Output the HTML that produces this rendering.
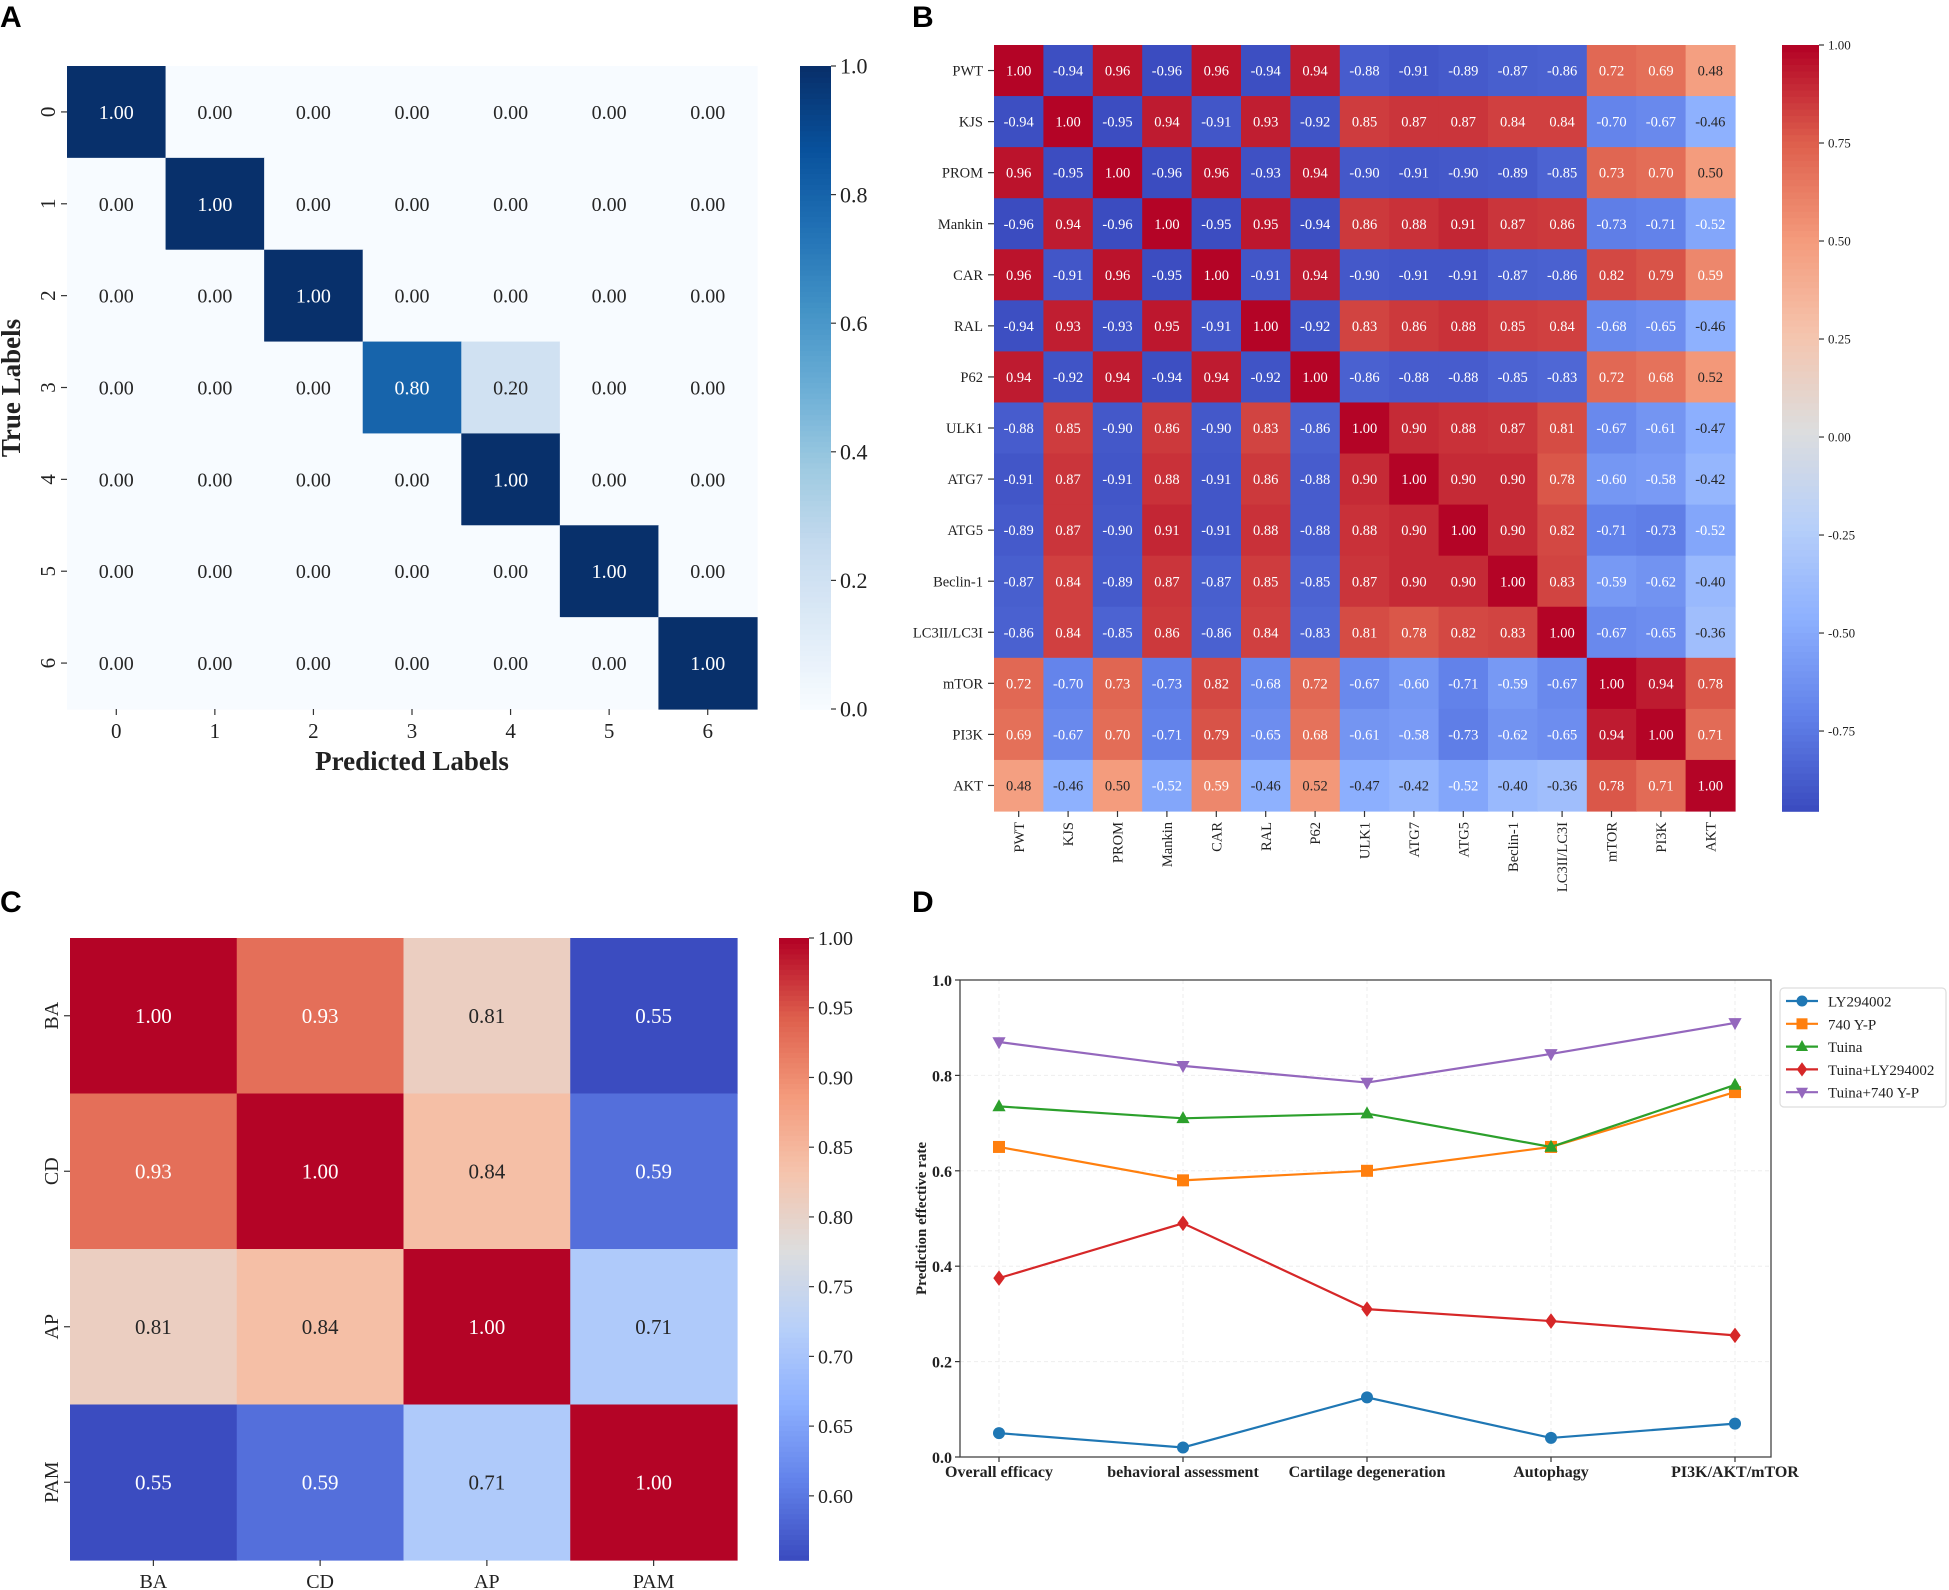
<!DOCTYPE html>
<html><head><meta charset="utf-8">
<style>
html,body{margin:0;padding:0;background:#fff;}
svg{display:block;}
text{font-family:"Liberation Serif",serif;}
.pl{font-family:"Liberation Sans",sans-serif;font-weight:bold;font-size:30px;}
</style></head>
<body>
<svg id="fig" width="1949" height="1590" viewBox="0 0 1949 1590" xmlns="http://www.w3.org/2000/svg">
<rect width="1949" height="1590" fill="#fff"/>
<text class="pl" x="0" y="27">A</text>
<text class="pl" x="912" y="27">B</text>
<text class="pl" x="0" y="912">C</text>
<text class="pl" x="912" y="912">D</text>
<g id="pa"></g>
<g id="pb"></g>
<g id="pc"></g>
<g id="pd"></g>
</svg>
<script>
// ---------- Panel A data ----------
const aLabels = ["0","1","2","3","4","5","6"];
const aMatrix = [
 [1,0,0,0,0,0,0],
 [0,1,0,0,0,0,0],
 [0,0,1,0,0,0,0],
 [0,0,0,0.8,0.2,0,0],
 [0,0,0,0,1,0,0],
 [0,0,0,0,0,1,0],
 [0,0,0,0,0,0,1]];
const aCbTicks = [0,0.2,0.4,0.6,0.8,1.0];
// ---------- Panel B data ----------
const bLabels = ["PWT","KJS","PROM","Mankin","CAR","RAL","P62","ULK1","ATG7","ATG5","Beclin-1","LC3II/LC3I","mTOR","PI3K","AKT"];
const bMatrix = [
 [1.00,-0.94,0.96,-0.96,0.96,-0.94,0.94,-0.88,-0.91,-0.89,-0.87,-0.86,0.72,0.69,0.48],
 [-0.94,1.00,-0.95,0.94,-0.91,0.93,-0.92,0.85,0.87,0.87,0.84,0.84,-0.70,-0.67,-0.46],
 [0.96,-0.95,1.00,-0.96,0.96,-0.93,0.94,-0.90,-0.91,-0.90,-0.89,-0.85,0.73,0.70,0.50],
 [-0.96,0.94,-0.96,1.00,-0.95,0.95,-0.94,0.86,0.88,0.91,0.87,0.86,-0.73,-0.71,-0.52],
 [0.96,-0.91,0.96,-0.95,1.00,-0.91,0.94,-0.90,-0.91,-0.91,-0.87,-0.86,0.82,0.79,0.59],
 [-0.94,0.93,-0.93,0.95,-0.91,1.00,-0.92,0.83,0.86,0.88,0.85,0.84,-0.68,-0.65,-0.46],
 [0.94,-0.92,0.94,-0.94,0.94,-0.92,1.00,-0.86,-0.88,-0.88,-0.85,-0.83,0.72,0.68,0.52],
 [-0.88,0.85,-0.90,0.86,-0.90,0.83,-0.86,1.00,0.90,0.88,0.87,0.81,-0.67,-0.61,-0.47],
 [-0.91,0.87,-0.91,0.88,-0.91,0.86,-0.88,0.90,1.00,0.90,0.90,0.78,-0.60,-0.58,-0.42],
 [-0.89,0.87,-0.90,0.91,-0.91,0.88,-0.88,0.88,0.90,1.00,0.90,0.82,-0.71,-0.73,-0.52],
 [-0.87,0.84,-0.89,0.87,-0.87,0.85,-0.85,0.87,0.90,0.90,1.00,0.83,-0.59,-0.62,-0.40],
 [-0.86,0.84,-0.85,0.86,-0.86,0.84,-0.83,0.81,0.78,0.82,0.83,1.00,-0.67,-0.65,-0.36],
 [0.72,-0.70,0.73,-0.73,0.82,-0.68,0.72,-0.67,-0.60,-0.71,-0.59,-0.67,1.00,0.94,0.78],
 [0.69,-0.67,0.70,-0.71,0.79,-0.65,0.68,-0.61,-0.58,-0.73,-0.62,-0.65,0.94,1.00,0.71],
 [0.48,-0.46,0.50,-0.52,0.59,-0.46,0.52,-0.47,-0.42,-0.52,-0.40,-0.36,0.78,0.71,1.00]];
const bCbTicks = [1.00,0.75,0.50,0.25,0.00,-0.25,-0.50,-0.75];
// ---------- Panel C data ----------
const cLabels = ["BA","CD","AP","PAM"];
const cMatrix = [
 [1.00,0.93,0.81,0.55],
 [0.93,1.00,0.84,0.59],
 [0.81,0.84,1.00,0.71],
 [0.55,0.59,0.71,1.00]];
const cCbTicks = [1.00,0.95,0.90,0.85,0.80,0.75,0.70,0.65,0.60];
// ---------- Panel D data ----------
const dCategories = ["Overall efficacy","behavioral assessment","Cartilage degeneration","Autophagy","PI3K/AKT/mTOR"];
const dSeriesNames = ["LY294002","740 Y-P","Tuina","Tuina+LY294002","Tuina+740 Y-P"];
const dLY = [0.05,0.02,0.125,0.04,0.07];
const d740 = [0.65,0.58,0.60,0.65,0.765];
const dTuina = [0.735,0.71,0.72,0.65,0.78];
const dTuinaLY = [0.375,0.49,0.31,0.285,0.255];
const dTuina740 = [0.87,0.82,0.785,0.845,0.91];
const dYTicks = [0.0,0.2,0.4,0.6,0.8,1.0];

const NS="http://www.w3.org/2000/svg";
function mk(parent,tag,attrs,txt){const e=document.createElementNS(NS,tag);for(const k in attrs)e.setAttribute(k,attrs[k]);if(txt!==undefined)e.textContent=txt;parent.appendChild(e);return e;}
function interp(stops,t){t=Math.max(0,Math.min(1,t));const n=stops.length-1;const p=t*n;const i=Math.min(n-1,Math.floor(p));const f=p-i;const a=stops[i],b=stops[i+1];return [0,1,2].map(k=>Math.round(a[k]+(b[k]-a[k])*f));}
const BLUES=[[247,251,255],[222,235,247],[198,219,239],[158,202,225],[107,174,214],[66,146,198],[33,113,181],[8,81,156],[8,48,107]];
const COOL=[[59,76,192],[98,130,234],[141,176,254],[184,208,249],[221,221,221],[245,196,173],[244,154,123],[222,96,77],[180,4,38]];
function rgb(c){return `rgb(${c[0]},${c[1]},${c[2]})`;}
function lum(c){const l=c.map(v=>{v/=255;return v<=0.03928?v/12.92:Math.pow((v+0.055)/1.055,2.4);});return 0.2126*l[0]+0.7152*l[1]+0.0722*l[2];}

function heatmap(g,cfg){
  const {labels,matrix,x0,y0,x1,y1,vmin,vmax,cmap,fs,tfs,cb,cbTicks,cbFmt,cbFs,rowRot,colRot,name}=cfg;
  const n=labels.length, cw=(x1-x0)/n, ch=(y1-y0)/n;
  const sx=i=>x0+i*cw, sy=j=>y0+j*ch;
  const norm=v=>(v-vmin)/(vmax-vmin);
  matrix.forEach((row,r)=>row.forEach((v,c)=>{
    const col=interp(cmap,norm(v));
    const rc=mk(g,'rect',{x:sx(c),y:sy(r),width:cw+0.6,height:ch+0.6,fill:rgb(col)});
    
    
    const t=mk(g,'text',{x:sx(c)+cw/2,y:sy(r)+ch/2+fs*0.35,'text-anchor':'middle','font-size':fs,fill:lum(col)>0.408?'#262626':'#fff'},v.toFixed(2));
    
    
  }));
  labels.forEach((l,i)=>{
    const yc=sy(i)+ch/2, xc=sx(i)+cw/2;
    mk(g,'line',{x1:x0-6,x2:x0,y1:yc,y2:yc,stroke:'#333','stroke-width':1.2});
    let t;
    if(rowRot){t=mk(g,'text',{x:0,y:0,transform:`translate(${x0-12},${yc}) rotate(-90)`,'text-anchor':'middle','font-size':tfs,fill:'#222'},l);}
    else{t=mk(g,'text',{x:x0-11,y:yc+tfs*0.35,'text-anchor':'end','font-size':tfs,fill:'#222'},l);}
    
    
    mk(g,'line',{x1:xc,x2:xc,y1:y1,y2:y1+6,stroke:'#333','stroke-width':1.2});
    let u;
    if(colRot){u=mk(g,'text',{x:0,y:0,transform:`translate(${xc+tfs*0.35},${y1+11}) rotate(-90)`,'text-anchor':'end','font-size':tfs,fill:'#222'},l);}
    else{u=mk(g,'text',{x:xc,y:y1+12+tfs*0.8,'text-anchor':'middle','font-size':tfs,fill:'#222'},l);}
    
    
  });
  const cby=v=>cb.y1-(v-vmin)/(vmax-vmin)*(cb.y1-cb.y0);
  const steps=120;
  for(let k=0;k<steps;k++){
    const v0=vmin+(vmax-vmin)*k/steps;
    mk(g,'rect',{x:cb.x0,y:cby(v0+(vmax-vmin)/steps),width:cb.x1-cb.x0,height:(cb.y1-cb.y0)/steps+0.8,fill:rgb(interp(cmap,k/(steps-1)))});
  }
  const cbr=mk(g,'rect',{x:cb.x0,y:cb.y0,width:cb.x1-cb.x0,height:cb.y1-cb.y0,fill:'none'});
  
  
  cbTicks.forEach(v=>{
    const y=cby(v);
    mk(g,'line',{x1:cb.x1,x2:cb.x1+5,y1:y,y2:y,stroke:'#333','stroke-width':1.2});
    const t=mk(g,'text',{x:cb.x1+9,y:y+cbFs*0.35,'font-size':cbFs,fill:'#222'},v.toFixed(cbFmt));
    
    
  });
}

const pa=document.getElementById('pa');
heatmap(pa,{labels:aLabels,matrix:aMatrix,x0:67,y0:66,x1:757,y1:709,vmin:0,vmax:1,cmap:BLUES,fs:20,tfs:21,
  cb:{x0:800,x1:831,y0:66,y1:709},cbTicks:aCbTicks,cbFmt:1,cbFs:22,rowRot:true,colRot:false,name:'confusion'});
let t=mk(pa,'text',{x:412,y:770,'text-anchor':'middle','font-size':27,'font-weight':'bold',fill:'#222'},'Predicted Labels');

t=mk(pa,'text',{x:0,y:0,transform:'translate(20,388) rotate(-90)','text-anchor':'middle','font-size':27,'font-weight':'bold',fill:'#222'},'True Labels');


const pb=document.getElementById('pb');
heatmap(pb,{labels:bLabels,matrix:bMatrix,x0:994,y0:45,x1:1735,y1:811,vmin:-0.954,vmax:1,cmap:COOL,fs:14.5,tfs:14.5,
  cb:{x0:1782,x1:1819,y0:45,y1:811},cbTicks:bCbTicks,cbFmt:2,cbFs:13,rowRot:false,colRot:true,name:'correlation'});

const pc=document.getElementById('pc');
heatmap(pc,{labels:cLabels,matrix:cMatrix,x0:70,y0:938,x1:737,y1:1560,vmin:0.554,vmax:1,cmap:COOL,fs:21,tfs:20,
  cb:{x0:779,x1:809,y0:938,y1:1560},cbTicks:cCbTicks,cbFmt:2,cbFs:20,rowRot:true,colRot:false,name:'pairwise'});

const pd=document.getElementById('pd');
const DX0=960,DX1=1771,DY0=980,DY1=1457;
const dx=i=>999+i*(1735-999)/(dCategories.length-1);
const dy=v=>DY1-v*(DY1-DY0);
dYTicks.forEach(v=>{
  mk(pd,'line',{x1:DX0,x2:DX1,y1:dy(v),y2:dy(v),stroke:'#eee','stroke-width':1,'stroke-dasharray':'4,3'});
  mk(pd,'line',{x1:DX0-5,x2:DX0,y1:dy(v),y2:dy(v),stroke:'#333','stroke-width':1.2});
  const t=mk(pd,'text',{x:DX0-8,y:dy(v)+6,'text-anchor':'end','font-size':16,'font-weight':'bold',fill:'#222'},v.toFixed(1));
  
});
dCategories.forEach((c,i)=>{
  mk(pd,'line',{x1:dx(i),x2:dx(i),y1:DY0,y2:DY1,stroke:'#eee','stroke-width':1,'stroke-dasharray':'4,3'});
  mk(pd,'line',{x1:dx(i),x2:dx(i),y1:DY1,y2:DY1+5,stroke:'#333','stroke-width':1.2});
  const t=mk(pd,'text',{x:dx(i),y:DY1+20,'text-anchor':'middle','font-size':16,'font-weight':'bold',fill:'#222'},c);
  
});
const ax=mk(pd,'rect',{x:DX0,y:DY0,width:DX1-DX0,height:DY1-DY0,fill:'none',stroke:'#444','stroke-width':1.3});

t=mk(pd,'text',{x:0,y:0,transform:`translate(926,${(DY0+DY1)/2}) rotate(-90)`,'text-anchor':'middle','font-size':15,'font-weight':'bold',fill:'#222'},'Prediction effective rate');


const dColors=['#1f77b4','#ff7f0e','#2ca02c','#d62728','#9467bd'];
const dMarkers=['o','s','^','D','v'];
const dSeries=[dLY,d740,dTuina,dTuinaLY,dTuina740];
function marker(g,type,x,y,col,r){
  if(type==='o') return mk(g,'circle',{cx:x,cy:y,r:r,fill:col});
  if(type==='s') return mk(g,'rect',{x:x-r,y:y-r,width:2*r,height:2*r,fill:col});
  if(type==='^') return mk(g,'polygon',{points:`${x},${y-r*1.2} ${x-r*1.1},${y+r*0.8} ${x+r*1.1},${y+r*0.8}`,fill:col});
  if(type==='v') return mk(g,'polygon',{points:`${x},${y+r*1.2} ${x-r*1.1},${y-r*0.8} ${x+r*1.1},${y-r*0.8}`,fill:col});
  return mk(g,'polygon',{points:`${x},${y-r*1.3} ${x+r*0.95},${y} ${x},${y+r*1.3} ${x-r*0.95},${y}`,fill:col});
}
dSeries.forEach((s,k)=>{
  const pts=s.map((v,i)=>`${dx(i)},${dy(v)}`).join(' ');
  const pl=mk(pd,'polyline',{points:pts,fill:'none',stroke:dColors[k],'stroke-width':2.2});
  
  
  s.forEach((v,i)=>{
    const m=marker(pd,dMarkers[k],dx(i),dy(v),dColors[k],6);
    
    
  });
});
const lg=mk(pd,'g',{});


mk(lg,'rect',{x:1780,y:988,width:166,height:119,rx:4,fill:'#fff',stroke:'#ddd','stroke-width':1.2});
dSeriesNames.forEach((n,k)=>{
  const y=1001+k*22.8;
  mk(lg,'line',{x1:1786,x2:1818,y1:y,y2:y,stroke:dColors[k],'stroke-width':2.2});
  marker(lg,dMarkers[k],1802,y,dColors[k],5.5);
  const t=mk(lg,'text',{x:1828,y:y+5.5,'font-size':15,fill:'#222'},n);
  
  
});
</script>
</body></html>
